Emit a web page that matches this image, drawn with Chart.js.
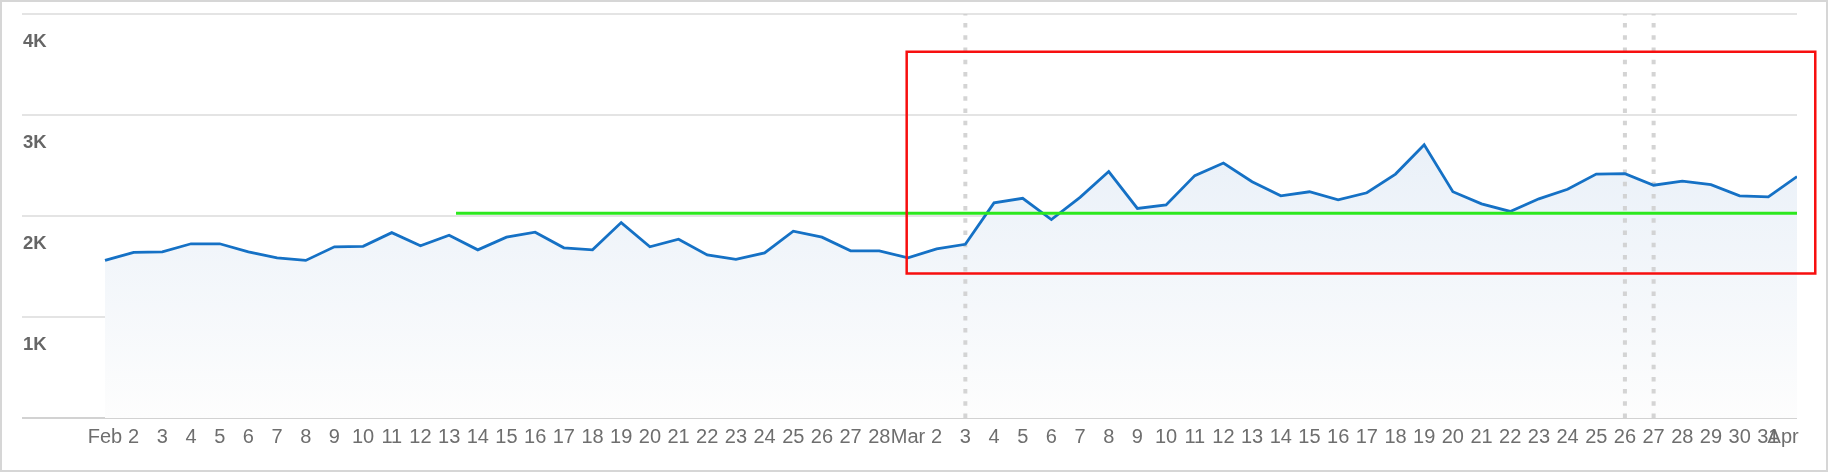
<!DOCTYPE html>
<html><head><meta charset="utf-8">
<script src="https://cdn.jsdelivr.net/npm/chart.js@4.4.1/dist/chart.umd.min.js"></script>
<style>
html,body{margin:0;padding:0;background:#fff;}
#wrap{position:relative;width:1828px;height:472px;}
#frame{position:absolute;left:0;top:0;width:1828px;height:472px;box-sizing:border-box;border:2px solid #d6d6d6;pointer-events:none;}
canvas{display:block;}
</style></head><body>
<div id="wrap"><canvas id="c" width="1828" height="472"></canvas><div id="frame"></div></div>
<script>
// Category tick labels (Feb 1 .. Apr 1)
const days = ['Feb','2','3','4','5','6','7','8','9','10','11','12','13','14','15','16','17','18','19','20','21','22','23','24','25','26','27','28',
  'Mar','2','3','4','5','6','7','8','9','10','11','12','13','14','15','16','17','18','19','20','21','22','23','24','25','26','27','28','29','30','31',
  'Apr'];
// Daily series values
const sessions = [1560,1640,1645,1725,1725,1645,1585,1560,1695,1700,1835,1705,1810,1665,1790,1840,1685,1665,1935,1695,
  1770,1615,1570,1635,1850,1790,1655,1655,1585,1675,1720,2130,2175,1965,2185,2440,2075,2110,2400,2525,
  2340,2200,2240,2160,2230,2415,2705,2240,2120,2045,2170,2265,2415,2420,2305,2345,2310,2200,2190,2390];
// Y tick values
const yTicks = [0,1000,2000,3000,4000];
// Green reference level (value, from index, to index)
const targetLevel = [2027];
const targetSpan = [12.24, 59];
// Red highlight box (index range, value range)
const boxX = [27.955, 59.637];
const boxY = [1431, 3627];
// Dashed marker days (indices)
const markerDays = [30, 53, 54];

const xMin = -2.894, xMax = 59;

const datasets = [];
markerDays.forEach(d => datasets.push({
  data: [{x:d,y:0},{x:d,y:4000}],
  borderColor:'rgba(205,205,205,0.85)', borderWidth:4, borderDash:[4.5,7.7],
  pointRadius:0, fill:false, order:5
}));
datasets.push({
  data: sessions.map((v,i)=>({x:i,y:v})),
  borderColor:'#1571c5', borderWidth:2.8, pointRadius:0, tension:0,
  fill:'origin',
  backgroundColor:(ctx)=>{
    const ch = ctx.chart; const ca = ch.chartArea;
    if(!ca) return 'rgba(235,240,248,1)';
    const top = ch.scales.y.getPixelForValue(2800);
    const g = ch.ctx.createLinearGradient(0, top, 0, ca.bottom);
    g.addColorStop(0,'#e9f0f8'); g.addColorStop(1,'#fdfdfd');
    return g;
  },
  order:2
});
datasets.push({
  data: targetSpan.map(x=>({x, y:targetLevel[0]})),
  borderColor:'#2ce81e', borderWidth:3, pointRadius:0, fill:false, order:1
});
datasets.push({
  data: [{x:boxX[0],y:boxY[1]},{x:boxX[1],y:boxY[1]},{x:boxX[1],y:boxY[0]},{x:boxX[0],y:boxY[0]},{x:boxX[0],y:boxY[1]}],
  borderColor:'#f70f0f', borderWidth:2.5, pointRadius:0, fill:false, clip:false,
  borderJoinStyle:'miter', borderCapStyle:'square', order:0
});

new Chart(document.getElementById('c'), {
  type:'line',
  data:{datasets},
  options:{
    responsive:false, animation:false, devicePixelRatio:1,
    layout:{padding:{left:22,right:31,top:14,bottom:0}},
    plugins:{legend:{display:false}, tooltip:{enabled:false}, filler:{drawTime:'beforeDatasetsDraw'}},
    scales:{
      x:{
        type:'linear', min:xMin, max:xMax,
        grid:{display:false, drawTicks:false}, border:{display:false},
        afterBuildTicks:(s)=>{ s.ticks = days.map((_,i)=>({value:i})); },
        afterFit:(s)=>{ s.height = 54; s.paddingLeft = 0; s.paddingRight = 0; },
        ticks:{autoSkip:false, maxRotation:0, minRotation:0, padding:7, color:'#6e6e6e',
          font:{family:'"Liberation Sans", Arial, sans-serif', size:20},
          callback:(v)=>{
            const i = Math.round(v);
            if (days[i] === undefined) return '';
            // last label is kept inside the plot edge (justified to the right)
            return i === days.length - 1 ? days[i] + '     ' : days[i];
          }
        }
      },
      y:{
        min:0, max:4000,
        afterBuildTicks:(s)=>{ s.ticks = yTicks.map(v=>({value:v})); },
        afterFit:(s)=>{ s.width = 0; },
        grid:{drawTicks:false, lineWidth:2, color:(c)=> c.tick && c.tick.value===0 ? '#d2d2d2' : '#e4e4e4'},
        border:{display:false},
        ticks:{mirror:true, padding:1, labelOffset:28, color:'#666',
          font:{family:'"Liberation Sans", Arial, sans-serif', size:18.5, weight:'bold'},
          callback:(v)=> v===0 ? '' : (v/1000)+'K'
        }
      }
    }
  }
});
</script>
</body></html>
